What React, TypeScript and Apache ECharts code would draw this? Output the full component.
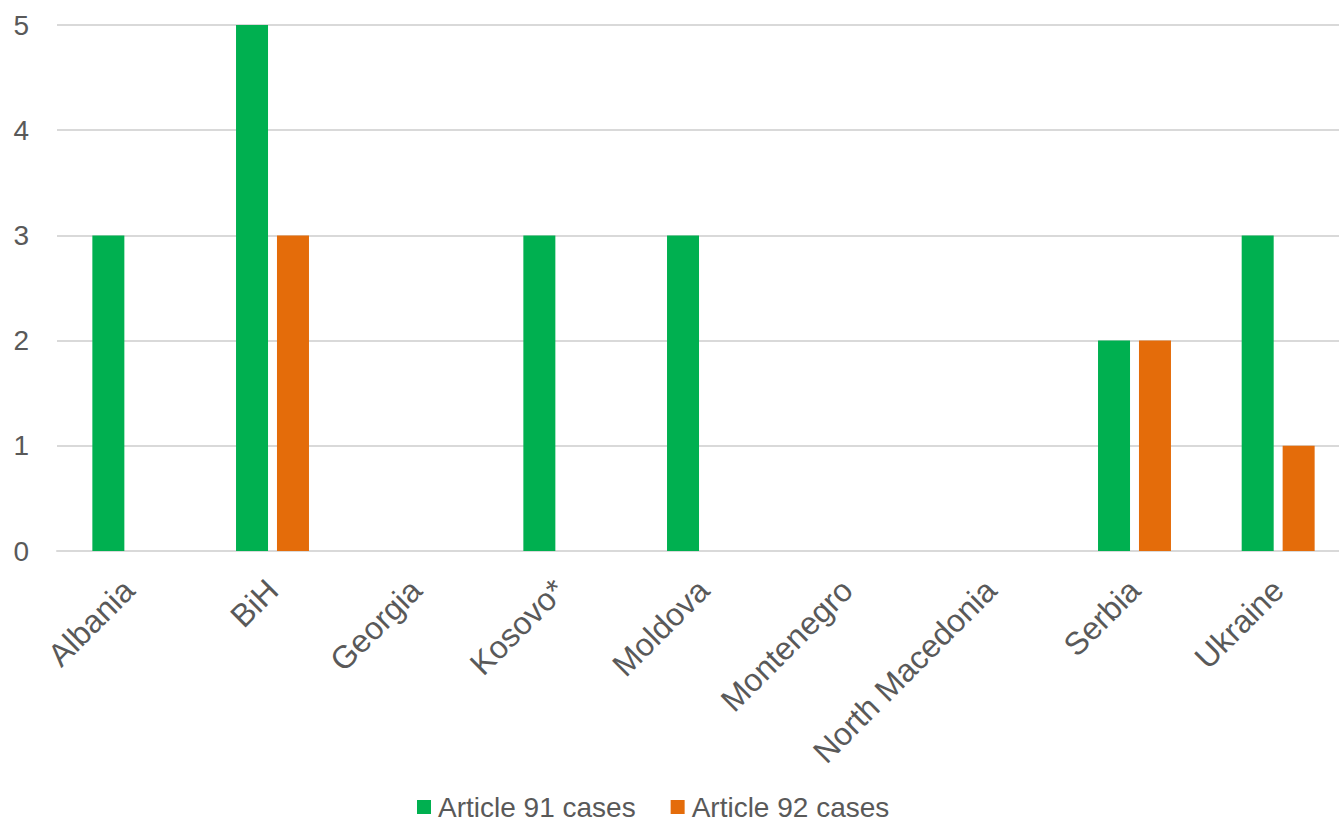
import React, { useEffect, useRef } from "react";
import * as echarts from "echarts";

const categories = ["Albania", "BiH", "Georgia", "Kosovo*", "Moldova", "Montenegro", "North Macedonia", "Serbia", "Ukraine"];
const article91 = [3, 5, 0, 3, 3, 0, 0, 2, 3];
const article92 = [0, 3, 0, 0, 0, 0, 0, 2, 1];
const yTicks = { min: 0, max: 5, interval: 1 };

export default function App() {
  const ref = useRef<HTMLDivElement>(null);
  useEffect(() => {
    const chart = echarts.init(ref.current!, null, { renderer: "svg" });
    const font = "'Liberation Sans', Arial, sans-serif";
    chart.setOption({
      animation: false,
      textStyle: { fontFamily: font },
      grid: { left: 57, right: 0, top: 25, bottom: 272, containLabel: false },
      legend: {
        bottom: 2,
        left: 417,
        padding: 0,
        itemWidth: 14,
        itemHeight: 14,
        itemGap: 35,
        icon: "rect",
        textStyle: { fontSize: 28, color: "#595959", fontFamily: font, padding: [0, 0, 0, 2] },
        data: ["Article 91 cases", "Article 92 cases"],
      },
      xAxis: {
        type: "category",
        data: categories,
        axisLine: { show: true, lineStyle: { color: "#D9D9D9", width: 2 } },
        axisTick: { show: false },
        axisLabel: { rotate: 45, interval: 0, margin: 34, fontSize: 32, color: "#595959", fontFamily: font },
      },
      yAxis: {
        type: "value",
        min: yTicks.min,
        max: yTicks.max,
        interval: yTicks.interval,
        axisLine: { show: false },
        axisTick: { show: false },
        splitLine: { lineStyle: { color: "#D9D9D9", width: 2 } },
        axisLabel: { margin: 28, fontSize: 28, color: "#595959", fontFamily: font },
      },
      series: [
        {
          name: "Article 91 cases",
          type: "bar",
          data: article91,
          barWidth: 32,
          barGap: "28%",
          itemStyle: { color: "#00B050" },
        },
        {
          name: "Article 92 cases",
          type: "bar",
          data: article92,
          barWidth: 32,
          itemStyle: { color: "#E46C0A" },
        },
      ],
    });
    return () => chart.dispose();
  }, []);
  return (
    <div style={{ position: "absolute", left: 0, top: 0, width: 1339, height: 823, overflow: "hidden" }}>
      <div ref={ref} style={{ width: 1350, height: 823 }} />
    </div>
  );
}
